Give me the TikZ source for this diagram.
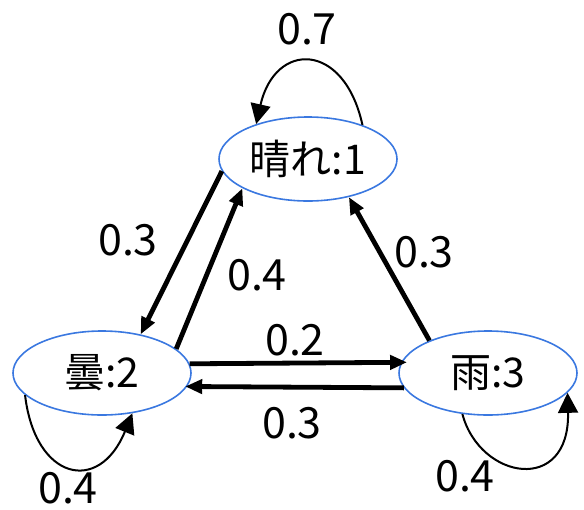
\documentclass[tikz,border=0pt]{standalone}
\usepackage{fontspec}
\setmainfont{Noto Sans CJK JP}
\usetikzlibrary{arrows.meta,shapes.geometric}
\definecolor{nodeblue}{HTML}{3A78E0}
\begin{document}
\begin{tikzpicture}[x=1pt,y=-1pt,
  state/.style={draw=nodeblue,line width=1.6pt,ellipse,minimum width=178pt,minimum height=84pt,inner sep=0pt,font=\fontsize{41}{48}\selectfont},
  lbl/.style={font=\fontsize{43}{50}\selectfont,inner sep=0pt},
  thick arrow/.style={line width=4.8pt,-{Triangle[length=17pt,width=14pt]}},
  loop arrow/.style={line width=2pt,-{Triangle[length=20pt,width=20pt]}}]
\useasboundingbox (0,0) rectangle (584,509);
\node[state] (n1) at (308,159) {晴れ:1};
\node[state] (n2) at (102,373) {曇:2};
\node[state] (n3) at (488,373) {雨:3};
% straight arrows
\draw[thick arrow] (n1.188) -- (n2.45);
\draw[thick arrow] (n2.18) -- (n1.204);
\draw[thick arrow] (n3.151) -- (n1.-43.5);
\draw[thick arrow,shorten >=-6pt] (n2.6.3) -- (n3.173.7);
\draw[thick arrow,shorten >=-2pt] (n3.-170.5) -- (n2.-9.5);
% loops
\draw[loop arrow] (n1.32) .. controls (344,41) and (275,41) .. (n1.146);
\draw[loop arrow] (n2.196) .. controls (35,480) and (99,495) .. (n2.-53.6);
\draw[loop arrow] (n3.238) .. controls (480,480) and (570,495) .. (n3.-14.7);
% labels
\node[lbl] (l7) at (307,29) {0.7};
\node[lbl] (l12) at (128,240) {0.3};
\node[lbl] (l21) at (257,275) {0.4};
\node[lbl] (l31) at (424,252) {0.3};
\node[lbl] (l23) at (295,340) {0.2};
\node[lbl] (l32) at (292,423) {0.3};
\node[lbl] (l22) at (68,488) {0.4};
\node[lbl] (l33) at (465,476) {0.4};
\end{tikzpicture}
\end{document}
